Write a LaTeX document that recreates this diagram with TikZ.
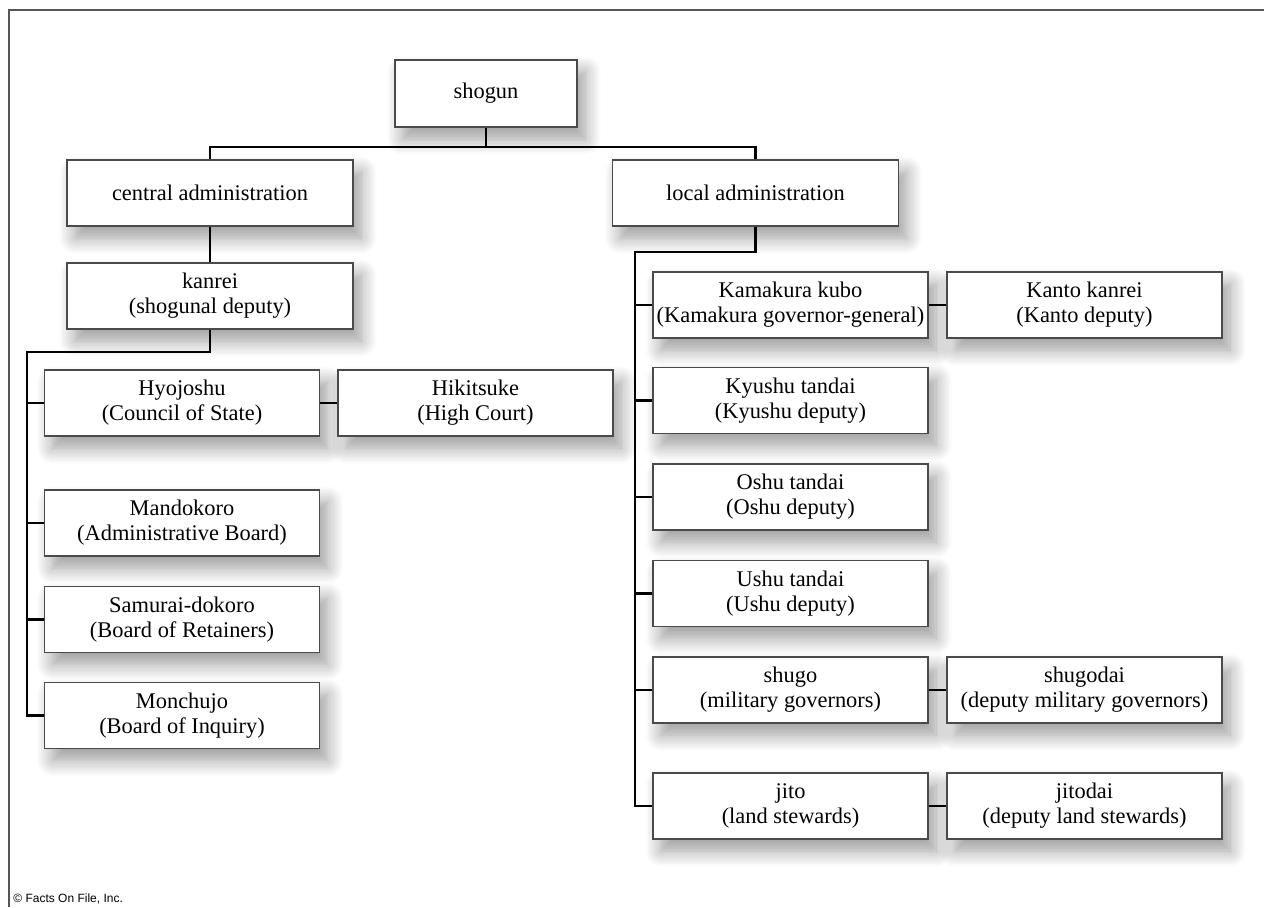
\documentclass[tikz,border=0pt]{standalone}
\usepackage{fontspec}
\setmainfont{Liberation Serif}
\newfontfamily\creditfont{Liberation Sans}
\usepackage{tikz}
\usetikzlibrary{shadows.blur}
\definecolor{FrameGray}{HTML}{555555}
\definecolor{BoxEdge}{HTML}{4a4a4a}
\tikzset{
  orgbox/.style={draw=BoxEdge,line width=0.7pt,fill=white,align=center,
    minimum width=137.5pt,minimum height=33pt,inner sep=0pt,
    font=\fontsize{11.2}{12.5}\selectfont,
    blur shadow={shadow xshift=4pt,shadow yshift=-6pt,shadow blur radius=8pt,
      shadow blur steps=12,shadow opacity=40}},
  widebox/.style={orgbox,minimum width=143pt},
  link/.style={draw=black,line width=1.1pt},
  frame/.style={draw=FrameGray,line width=1pt}
}

\begin{document}
\begin{tikzpicture}[x=0.5pt,y=-0.5pt]
   \useasboundingbox (0,0) rectangle (1264,907);
   \draw[frame] (9,907) -- (9,10) -- (1264,10);
   \node[orgbox,minimum width=91pt,minimum height=33.5pt] (shogun) at (486,93.5) {shogun};
   \node[widebox] (central) at (210,193) {central administration};
   \node[widebox] (local) at (755.5,193) {local administration};
   \node[widebox] (kanrei) at (210,296) {kanrei\\(shogunal deputy)};
   \node[orgbox] (hyojoshu) at (182,403) {Hyojoshu\\(Council of State)};
   \node[orgbox] (hikitsuke) at (475.5,403) {Hikitsuke\\(High Court)};
   \node[orgbox] (mandokoro) at (182,523) {Mandokoro\\(Administrative Board)};
   \node[orgbox] (samurai) at (182,619.5) {Samurai-dokoro\\(Board of Retainers)};
   \node[orgbox] (monchujo) at (182,715.5) {Monchujo\\(Board of Inquiry)};
   \node[orgbox] (kamakura) at (790.5,305) {Kamakura kubo\\(Kamakura governor-general)};
   \node[orgbox] (kanto) at (1084.5,305) {Kanto kanrei\\(Kanto deputy)};
   \node[orgbox] (kyushu) at (790.5,400.5) {Kyushu tandai\\(Kyushu deputy)};
   \node[orgbox] (oshu) at (790.5,497) {Oshu tandai\\(Oshu deputy)};
   \node[orgbox] (ushu) at (790.5,593.5) {Ushu tandai\\(Ushu deputy)};
   \node[orgbox] (shugo) at (790.5,690) {shugo\\(military governors)};
   \node[orgbox] (shugodai) at (1084.5,690) {shugodai\\(deputy military governors)};
   \node[orgbox] (jito) at (790.5,806) {jito\\(land stewards)};
   \node[orgbox] (jitodai) at (1084.5,806) {jitodai\\(deputy land stewards)};
   \coordinate (topbar) at (486,147);
   \coordinate (leftbar) at (27,352);
   \coordinate (rightbar) at (635,252);
   \draw[link] (shogun.south) -- (topbar);
   \draw[link] (central.north) |- (topbar) -| (local.north);
   \draw[link] (central) -- (kanrei);
   \draw[link] (kanrei.south) |- (leftbar) |- (monchujo.west);
   \foreach \n in {hyojoshu,mandokoro,samurai}
      \draw[link] (leftbar |- \n.west) -- (\n.west);
   \draw[link] (hyojoshu) -- (hikitsuke);
   \draw[link] (local.south) |- (rightbar) |- (jito.west);
   \foreach \n in {kamakura,kyushu,oshu,ushu,shugo}
      \draw[link] (rightbar |- \n.west) -- (\n.west);
   \foreach \a/\b in {kamakura/kanto,shugo/shugodai,jito/jitodai}
      \draw[link] (\a) -- (\b);
   \node[anchor=base west,inner sep=0pt,font=\creditfont\fontsize{6}{7}\selectfont] (credit) at (13,902) {© Facts On File, Inc.};
  \end{tikzpicture}
\end{document}
